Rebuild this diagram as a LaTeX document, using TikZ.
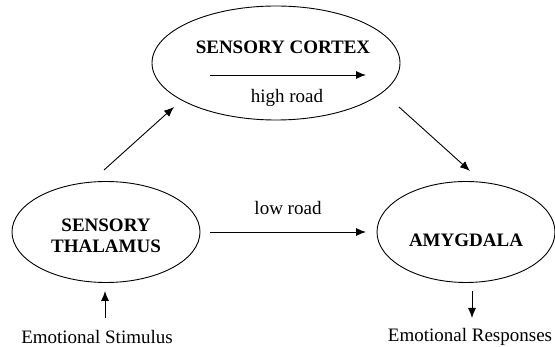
\documentclass[tikz,border=0pt]{standalone}
\usepackage{fontspec}
\setmainfont{Liberation Serif}
\newfontfamily\diagfont{Liberation Serif}
\usetikzlibrary{shapes.geometric,arrows.meta}
\begin{document}
\begin{tikzpicture}[x=1pt,y=-1pt,
  region/.style={draw,ellipse,line width=0.9pt,inner sep=0pt},
  heading/.style={font=\diagfont\fontsize{19}{21}\selectfont\bfseries,inner sep=0pt,align=center},
  caption/.style={font=\diagfont\fontsize{19}{21}\selectfont,inner sep=0pt},
  flow/.style={line width=0.9pt,-{Latex[length=10pt,width=8pt]}}]
  \useasboundingbox (0,0) rectangle (555,347);
  % brain regions
  \node[region,minimum width=248pt,minimum height=114pt] (cortex) at (276,63) {};
  \node[region,minimum width=188pt,minimum height=101pt] (thal) at (106,232) {};
  \node[region,minimum width=178pt,minimum height=101pt] (amyg) at (466,232) {};
  \node[heading] (cortexlbl) at (283,47) {SENSORY CORTEX};
  \node[heading] (thallbl) at (106,236) {SENSORY\\THALAMUS};
  \node[heading] (amyglbl) at (466,240) {AMYGDALA};
  % high road inside the cortex
  \coordinate (hr1) at (210,75);
  \coordinate (hr2) at (366,75);
  \draw[flow] (hr1) -- (hr2);
  \node[caption] (highroad) at (287,98) {high road};
  % connections between regions
  \coordinate (d1s) at (104,170);
  \coordinate (d1e) at (174,107);
  \draw[flow] (d1s) -- (d1e);
  \coordinate (d2s) at (399,107);
  \coordinate (d2e) at (470,171);
  \draw[flow] (d2s) -- (d2e);
  \coordinate (lr1) at (210,232);
  \coordinate (lr2) at (366,232);
  \draw[flow] (lr1) -- (lr2);
  \node[caption] (lowroad) at (288,208) {low road};
  % input and output
  \node[caption] (stim) at (97,337) {Emotional Stimulus};
  \node[caption] (resp) at (470,337) {Emotional Responses};
  \coordinate (in1) at (105,318);
  \coordinate (in2) at (105,291);
  \draw[flow] (in1) -- (in2);
  \coordinate (out1) at (472,291);
  \coordinate (out2) at (472,318);
  \draw[flow] (out1) -- (out2);
\end{tikzpicture}
\end{document}
